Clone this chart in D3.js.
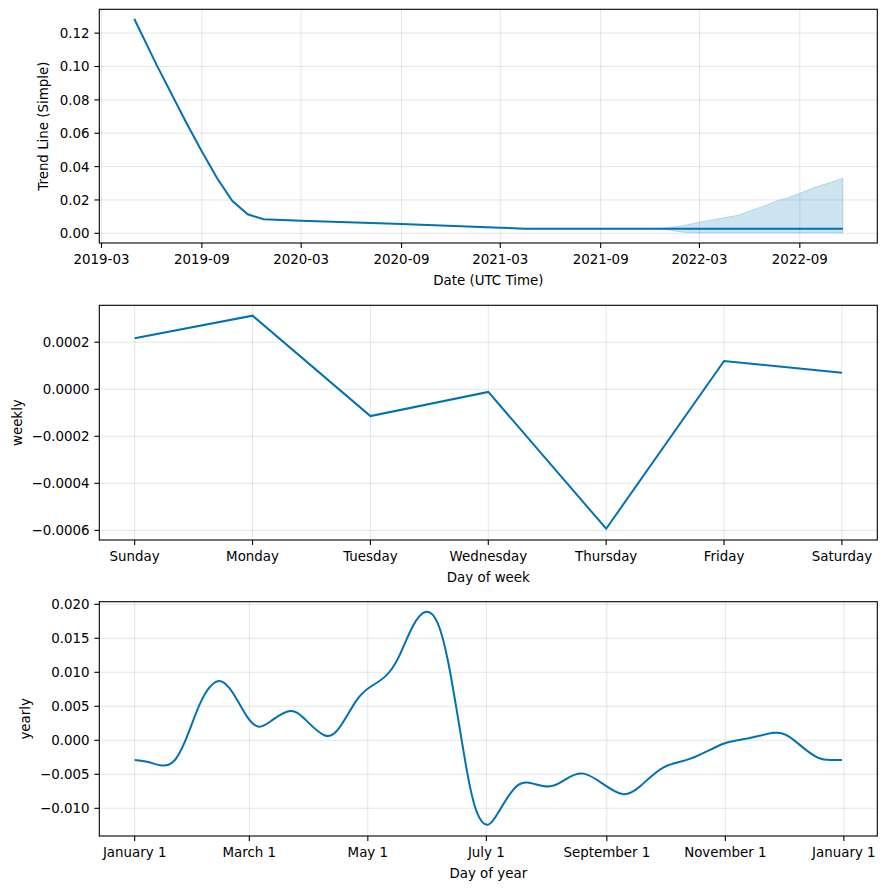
<!DOCTYPE html>
<html>
<head>
<meta charset="utf-8">
<script src="https://cdn.jsdelivr.net/npm/d3@7"></script>
<style>
  html, body { margin: 0; padding: 0; background: #fff; }
  svg text { font-family: "DejaVu Sans", sans-serif; font-size: 13.4px; fill: #000; }
</style>
</head>
<body>
<svg id="chart" width="886" height="889"></svg>
<script>
// ---------- DATA ----------
const trendDates  = ['2019-04-30','2019-06-10','2019-08-04','2019-09-01','2019-09-29','2019-10-27','2019-11-24','2019-12-23','2020-03-01','2020-09-01','2021-03-01','2021-04-15','2021-12-07','2022-11-19'];
const trendValues = [0.1286, 0.101, 0.066, 0.049, 0.033, 0.0194, 0.0114, 0.0084, 0.0075, 0.0056, 0.0034, 0.0028, 0.0028, 0.0028];

const bandDates = ['2021-12-07','2021-12-25','2022-01-26','2022-02-10','2022-02-28','2022-04-09','2022-05-10','2022-06-06','2022-07-01','2022-07-22','2022-08-10','2022-09-01','2022-09-27','2022-10-20','2022-11-19'];
const bandUpper = [0.0028, 0.0031, 0.0044, 0.0054, 0.0066, 0.0090, 0.0108, 0.0140, 0.0168, 0.0196, 0.0214, 0.0240, 0.0274, 0.0298, 0.0330];
const bandLower = [0.0028, 0.0025, 0.0008, 0.0003, 0.0002, 0.0002, 0.0002, 0.0002, 0.0002, 0.0002, 0.0002, 0.0002, 0.0002, 0.0002, 0.0002];

const trendXTicks = ['2019-03','2019-09','2020-03','2020-09','2021-03','2021-09','2022-03','2022-09'];
const trendYTicks = [0, 0.02, 0.04, 0.06, 0.08, 0.10, 0.12];

const weekDays = ['Sunday','Monday','Tuesday','Wednesday','Thursday','Friday','Saturday'];
const weeklyValues = [0.000217, 0.000313, -0.000114, -0.0000115, -0.000593, 0.000120, 0.0000706];
const weeklyYTicks = [-0.0006, -0.0004, -0.0002, 0, 0.0002];

const yearDays = [0, 7, 14, 21, 28, 35, 44, 52, 58, 64, 71, 80, 88, 98, 106, 114, 121, 129, 136, 143, 150, 156, 161, 166, 171, 176, 182, 188, 195, 202, 213, 222, 231, 241, 251, 260, 272, 286, 303, 316, 329, 337, 345, 352, 358, 364];
const yearlyValues = [-0.0029, -0.0032, -0.0037, -0.0028, 0.0013, 0.0062, 0.0087, 0.0063, 0.0034, 0.0020, 0.0030, 0.0043, 0.0030, 0.0007, 0.0021, 0.0058, 0.0078, 0.0094, 0.0123, 0.0167, 0.0189, 0.0172, 0.0120, 0.0040, -0.0045, -0.0105, -0.0124, -0.0102, -0.0072, -0.0062, -0.0068, -0.0057, -0.0049, -0.0064, -0.0079, -0.0068, -0.0040, -0.0027, -0.0005, 0.0003, 0.0011, 0.0005, -0.0013, -0.0026, -0.0029, -0.0029];
const yearlyTickDays = [0, 59, 120, 181, 243, 304, 365];
const yearlyTickLabels = ['January 1','March 1','May 1','July 1','September 1','November 1','January 1'];
const yearlyYTicks = [-0.010, -0.005, 0, 0.005, 0.010, 0.015, 0.020];

// ---------- LAYOUT ----------
const LINE = '#0072B2';
const L = 99.3, R = 877.3;
const svg = d3.select('#chart');
const parse = d3.utcParse('%Y-%m-%d');
const parseM = d3.utcParse('%Y-%m');

function grid(top, bottom, x, y, xTicks, yTicks) {
  const g = svg.append('g');
  g.selectAll('.gx').data(xTicks).join('line')
    .attr('x1', d => x(d)).attr('x2', d => x(d)).attr('y1', top).attr('y2', bottom)
    .attr('stroke', 'gray').attr('stroke-opacity', 0.2).attr('stroke-width', 1);
  g.selectAll('.gy').data(yTicks).join('line')
    .attr('x1', L).attr('x2', R).attr('y1', d => y(d)).attr('y2', d => y(d))
    .attr('stroke', 'gray').attr('stroke-opacity', 0.2).attr('stroke-width', 1);
}

function axes(top, bottom, x, y, xTicks, xFmt, yTicks, yFmt, xLabel, yLabel, yLabelX) {
  const g = svg.append('g');
  g.append('rect').attr('x', L).attr('y', top).attr('width', R - L).attr('height', bottom - top)
    .attr('fill', 'none').attr('stroke', '#000').attr('stroke-width', 1.1);
  g.selectAll('.tx').data(xTicks).join('line')
    .attr('x1', d => x(d)).attr('x2', d => x(d)).attr('y1', bottom).attr('y2', bottom + 4.9)
    .attr('stroke', '#000').attr('stroke-width', 1.1);
  g.selectAll('.lx').data(xTicks).join('text')
    .attr('x', d => x(d)).attr('y', bottom + 21.3).attr('text-anchor', 'middle')
    .text((d, i) => xFmt(d, i));
  g.selectAll('.ty').data(yTicks).join('line')
    .attr('x1', L - 4.9).attr('x2', L).attr('y1', d => y(d)).attr('y2', d => y(d))
    .attr('stroke', '#000').attr('stroke-width', 1.1);
  g.selectAll('.ly').data(yTicks).join('text')
    .attr('x', L - 9.8).attr('y', d => y(d) + 4.9).attr('text-anchor', 'end')
    .text(d => yFmt(d));
  g.append('text').attr('x', (L + R) / 2).attr('y', bottom + 42).attr('text-anchor', 'middle').text(xLabel);
  g.append('text').attr('transform', `translate(${yLabelX},${(top + bottom) / 2}) rotate(-90)`)
    .attr('text-anchor', 'middle').text(yLabel);
}

// ---------- PANEL 1: trend ----------
{
  const top = 9.3, bottom = 243;
  const x = d3.scaleUtc().domain([parse('2019-02-25'), parse('2023-01-21')]).range([L, R]);
  const y = d3.scaleLinear().domain([-0.0058, 0.1343]).range([bottom, top]);
  const xt = trendXTicks.map(parseM);
  grid(top, bottom, x, y, xt, trendYTicks);
  const band = bandDates.map((d, i) => ({ d: parse(d), lo: bandLower[i], hi: bandUpper[i] }));
  svg.append('path').datum(band)
    .attr('d', d3.area().x(p => x(p.d)).y0(p => y(p.lo)).y1(p => y(p.hi)))
    .attr('fill', LINE).attr('fill-opacity', 0.2).attr('stroke', LINE).attr('stroke-opacity', 0.2).attr('stroke-width', 1);
  const tr = trendDates.map((d, i) => ({ d: parse(d), v: trendValues[i] }));
  svg.append('path').datum(tr)
    .attr('d', d3.line().x(p => x(p.d)).y(p => y(p.v)))
    .attr('fill', 'none').attr('stroke', LINE).attr('stroke-width', 2);
  axes(top, bottom, x, y, xt, (d, i) => trendXTicks[i], trendYTicks, d3.format('.2f'),
       'Date (UTC Time)', 'Trend Line (Simple)', 48);
}

// ---------- PANEL 2: weekly ----------
{
  const top = 305.3, bottom = 540;
  const x = d3.scaleLinear().domain([-0.3, 6.3]).range([L, R]);
  const y = d3.scaleLinear().domain([-0.000641, 0.000357]).range([bottom, top]);
  const idx = weekDays.map((d, i) => i);
  grid(top, bottom, x, y, idx, weeklyYTicks);
  svg.append('path').datum(weeklyValues)
    .attr('d', d3.line().x((v, i) => x(i)).y(v => y(v)))
    .attr('fill', 'none').attr('stroke', LINE).attr('stroke-width', 2);
  axes(top, bottom, x, y, idx, (d, i) => weekDays[i], weeklyYTicks, v => d3.format('.4f')(Math.abs(v) < 1e-12 ? 0 : v),
       'Day of week', 'weekly', 21.5);
}

// ---------- PANEL 3: yearly ----------
{
  const top = 601.7, bottom = 836;
  const x = d3.scaleLinear().domain([-18.2, 382.2]).range([L, R]);
  const y = d3.scaleLinear().domain([-0.01407, 0.02038]).range([bottom, top]);
  grid(top, bottom, x, y, yearlyTickDays, yearlyYTicks);
  const pts = yearDays.map((d, i) => [d, yearlyValues[i]]);
  svg.append('path').datum(pts)
    .attr('d', d3.line().x(p => x(p[0])).y(p => y(p[1])).curve(d3.curveNatural))
    .attr('fill', 'none').attr('stroke', LINE).attr('stroke-width', 2);
  axes(top, bottom, x, y, yearlyTickDays, (d, i) => yearlyTickLabels[i], yearlyYTicks, v => d3.format('.3f')(Math.abs(v) < 1e-12 ? 0 : v),
       'Day of year', 'yearly', 29.5);
}
</script>
</body>
</html>
